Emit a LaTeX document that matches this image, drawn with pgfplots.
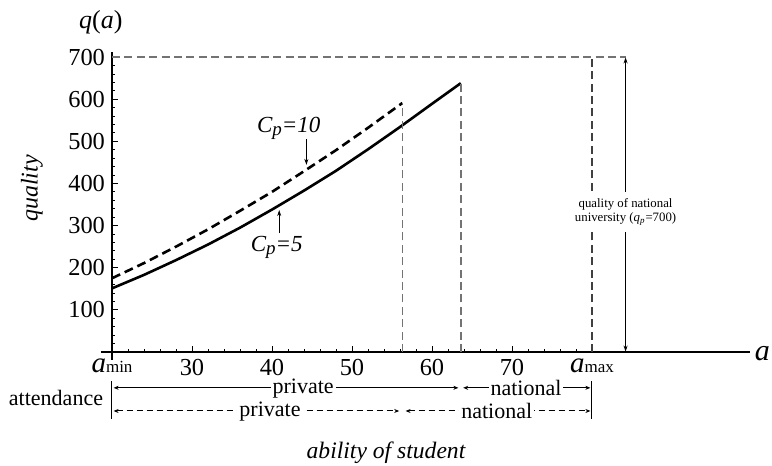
\documentclass[border=0pt]{standalone}
\usepackage{pgfplots}
\pgfplotsset{compat=1.18}
\usepackage{fontspec}
\setmainfont{Liberation Serif}
\usetikzlibrary{arrows.meta}

\begin{document}
\begin{tikzpicture}
\begin{axis}[
    name=ax,
    scale only axis,
    width=319pt, height=150pt,
    xmin=20, xmax=99.75, ymin=0, ymax=712,
    axis x line=bottom, axis y line=left,
    x axis line style={-}, y axis line style={-},
    axis line style={line width=0.6pt},
    tick align=inside,
    xtick={20,30,40,50,60,70,80},
    xticklabels={{\fontsize{14.5}{15}\selectfont\textit{a}\fontsize{8.5}{9}\selectfont min},30,40,50,60,70,{\fontsize{14.5}{15}\selectfont\textit{a}\fontsize{8.5}{9}\selectfont max}},
    ytick={0,100,200,300,400,500,600,700},
    yticklabels={{},100,200,300,400,500,600,700},
    minor x tick num=4, minor y tick num=4,
    major tick length=3pt, minor tick length=1.5pt,
    tick style={black, line width=0.4pt},
    ticklabel style={font=\fontsize{12.2}{13}\selectfont},
    xticklabel style={inner sep=0pt, yshift=-3.4pt},
    /pgf/number format/assume math mode=true,
    clip=false,
]
% Cp=5
\addplot[black, line width=1.3pt] coordinates {
  (20,151) (24,183) (28,218) (32,255) (36,295) (40,338) (44,383)
  (48,430) (52,481) (56,534) (60,589) (63.6,638)};
% Cp=10
\addplot[black, line width=1.3pt, dash pattern=on 4.5pt off 2.5pt] coordinates {
  (20,175) (24,211) (28,250) (32,291) (36,335) (40,380) (44,429)
  (48,479) (52,532) (56.3,591)};
% guide lines
\addplot[black!55, line width=0.8pt, dash pattern=on 4pt off 2.2pt] coordinates {(56.3,0) (56.3,591)};
\addplot[black!55, line width=0.8pt, dash pattern=on 4pt off 2.2pt] coordinates {(63.6,0) (63.6,638)};
\addplot[black!75, line width=0.6pt, dash pattern=on 4pt off 2.2pt] coordinates {(80,0) (80,700)};
\addplot[black!55, line width=0.8pt, dash pattern=on 4pt off 2.2pt] coordinates {(20,700) (84.2,700)};

\draw[line width=0.6pt] (axis cs:18.6,0) -- (axis cs:20,0);
\draw[line width=0.6pt] (axis cs:20,0) -- (axis cs:20,-19);

% national quality arrow
\draw[{Stealth[length=3pt,width=2pt]}-{Stealth[length=3pt,width=2pt]}, line width=0.5pt]
  (axis cs:84.2,1) -- (axis cs:84.2,699);
\node[fill=white, align=center, inner xsep=1pt, inner ysep=3pt,
  font=\fontsize{6.4}{7.2}\selectfont] at (axis cs:84.2,332)
  {quality of national\\university (\textit{q}\textsubscript{\textit{p}}=700)};

% Cp labels
\node[font=\fontsize{11.5}{13}\selectfont\itshape] at (axis cs:42.1,531)
  {C\raisebox{-0.3ex}{\fontsize{9.5}{10}\selectfont p}=10};
\draw[-{Stealth[length=3pt,width=2pt]}, line width=0.5pt] (axis cs:44.3,505) -- (axis cs:44.3,444);
\node[font=\fontsize{11.5}{13}\selectfont\itshape] at (axis cs:40.6,249)
  {C\raisebox{-0.3ex}{\fontsize{9.5}{10}\selectfont p}=5};
\draw[-{Stealth[length=3pt,width=2pt]}, line width=0.5pt] (axis cs:40.9,282) -- (axis cs:40.9,337);

% attendance rows
\node[font=\fontsize{11}{12}\selectfont] at (axis cs:13,-109) {attendance};
\draw[line width=0.5pt] (axis cs:20,-69) -- (axis cs:20,-159);
\draw[line width=0.5pt] (axis cs:80,-69) -- (axis cs:80,-159);
\draw[{Stealth[length=2.5pt,width=2pt]}-{Stealth[length=2.5pt,width=2pt]}, line width=0.5pt]
  (axis cs:20.2,-85) -- (axis cs:63.3,-85);
\node[fill=white, inner xsep=1pt, inner ysep=0pt, font=\fontsize{11}{12}\selectfont] at (axis cs:43.9,-86) {private};
\draw[{Stealth[length=2.5pt,width=2pt]}-{Stealth[length=2.5pt,width=2pt]}, line width=0.5pt]
  (axis cs:63.9,-85) -- (axis cs:79.8,-85);
\node[fill=white, inner xsep=1pt, inner ysep=0pt, font=\fontsize{11}{12}\selectfont] at (axis cs:71.75,-86) {national};
\draw[{Stealth[length=2.5pt,width=2pt]}-{Stealth[length=2.5pt,width=2pt]}, line width=0.5pt, dash pattern=on 3pt off 2pt]
  (axis cs:20.2,-140) -- (axis cs:55.9,-140);
\node[fill=white, inner xsep=1pt, inner ysep=0pt, font=\fontsize{11}{12}\selectfont] at (axis cs:39.75,-141) {private};
\draw[{Stealth[length=2.5pt,width=2pt]}-{Stealth[length=2.5pt,width=2pt]}, line width=0.5pt, dash pattern=on 3pt off 2pt]
  (axis cs:56.7,-140) -- (axis cs:79.8,-140);
\node[fill=white, inner xsep=1pt, inner ysep=0pt, font=\fontsize{11}{12}\selectfont] at (axis cs:68.1,-141) {national};

% axis labels
\node[font=\fontsize{11.8}{13}\selectfont\itshape] at (axis cs:54.25,-240) {ability of student};
\node[rotate=90, font=\fontsize{12}{13}\selectfont\itshape] at (axis cs:10,388) {quality};
\node[font=\fontsize{13}{14}\selectfont] at (axis cs:18.6,783) {\textit{q}(\textit{a})};
\node[font=\fontsize{15}{16}\selectfont\itshape] at (axis cs:101.3,-3) {a};
\end{axis}
\pgfresetboundingbox
\path (ax.south west) ++(-56pt,-57pt) rectangle ++(386pt,233pt);
\end{tikzpicture}
\end{document}
